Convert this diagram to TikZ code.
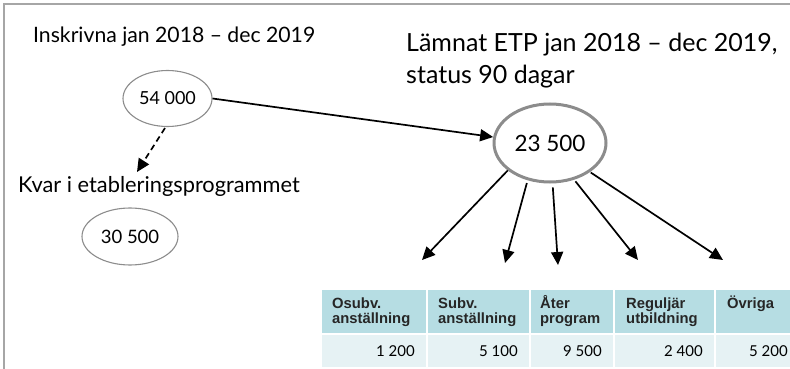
\documentclass[tikz,border=0pt]{standalone}
\usepackage{fontspec}
\setmainfont{Lato}
\newfontfamily\tabfont{Liberation Sans}
\usetikzlibrary{shapes.geometric,arrows.meta}

\definecolor{framegray}{HTML}{A6A6A6}
\definecolor{ringgray}{HTML}{8C8C8C}
\definecolor{hdrfill}{HTML}{B6DDE3}
\definecolor{rowfill}{HTML}{E6F2F4}
\definecolor{tabtext}{HTML}{262626}

\begin{document}
\begin{tikzpicture}[x=1pt,y=-1pt,
  tip/.style={-{Triangle[length=13pt,width=12pt]}},
  arr/.style={line width=1.7pt, tip},
  count/.style={ellipse, draw=ringgray, line width=1.1pt, inner sep=0pt},
  title/.style={anchor=base west, inner sep=0pt, text=black},
  cell/.style={anchor=north west, inner sep=0pt, draw=none},
  hdr/.style={cell, fill=hdrfill, minimum height=43pt},
  row/.style={cell, fill=rowfill, minimum height=32pt},
  hdtext/.style={anchor=base west, inner sep=0pt, text=tabtext,
    font=\tabfont\bfseries\fontsize{14.8}{17}\selectfont},
  num/.style={anchor=base east, inner sep=0pt, text=black,
    font=\fontsize{15}{18}\selectfont},
]
\useasboundingbox (0,0) rectangle (790,369);

% frame
\draw[framegray, line width=1.5pt] (4,369) -- (4,4) -- (790,4);

% headings
\node[title, font=\fontsize{21.2}{24}\selectfont] (ins) at (33,43) {Inskrivna jan 2018 -- dec 2019};
\node[title, font=\fontsize{25}{29}\selectfont] (lam1) at (406,52) {Lämnat ETP jan 2018 -- dec 2019,};
\node[title, font=\fontsize{25}{29}\selectfont] (lam2) at (406,84) {status 90 dagar};
\node[title, font=\fontsize{21.8}{25}\selectfont] (kvar) at (18,192) {Kvar i etableringsprogrammet};

% counts
\node[count, minimum width=89pt, minimum height=56pt, font=\fontsize{18}{20}\selectfont] (e54) at (167.5,98.5) {54 000};
\node[count, line width=3pt, minimum width=112pt, minimum height=78pt, font=\fontsize{22.5}{26}\selectfont] (e23) at (550,143) {23 500};
\node[count, minimum width=96pt, minimum height=57pt, font=\fontsize{18.5}{21}\selectfont] (e30) at (130,236.5) {30 500};

% connectors
\coordinate (kt) at (137,172);
\draw[line width=1.7pt, dash pattern=on 6pt off 4pt, tip] (e54.265) ++(0,1) -- (kt);
\draw[arr] (e54.east) -- (e23.174);

\coordinate (t1) at (422,260);
\coordinate (t2) at (505,263);
\coordinate (t3) at (558,265);
\coordinate (t4) at (638,260);
\coordinate (t5) at (723,260);
\draw[arr] (e23.213) -- (t1);
\draw[arr] (e23.238) ++(0,3) -- (t2);
\draw[arr] (e23.274) ++(0,4) -- (t3);
\draw[arr] (e23.305) ++(0,2) -- (t4);
\draw[arr] (e23.325) ++(0,1) -- (t5);

% table cells
\node[hdr, minimum width=104pt] (h1) at (322,290) {};
\node[hdr, minimum width=101pt] (h2) at (428,290) {};
\node[hdr, minimum width=82pt]  (h3) at (531,290) {};
\node[hdr, minimum width=99pt]  (h4) at (615,290) {};
\node[hdr, minimum width=74pt]  (h5) at (716,290) {};
\node[row, minimum width=104pt] (r1) at (322,335) {};
\node[row, minimum width=101pt] (r2) at (428,335) {};
\node[row, minimum width=82pt]  (r3) at (531,335) {};
\node[row, minimum width=99pt]  (r4) at (615,335) {};
\node[row, minimum width=74pt]  (r5) at (716,335) {};

% header texts
\node[hdtext] (h1a) at (332,308) {Osubv.};
\node[hdtext] (h1b) at (332,323.5) {anställning};
\node[hdtext] (h2a) at (438,308) {Subv.};
\node[hdtext] (h2b) at (438,323.5) {anställning};
\node[hdtext] (h3a) at (540,308) {Åter};
\node[hdtext] (h3b) at (540,323.5) {program};
\node[hdtext] (h4a) at (626,308) {Reguljär};
\node[hdtext] (h4b) at (626,323.5) {utbildning};
\node[hdtext] (h5a) at (727,308) {Övriga};

% values
\node[num] (n1) at (415,356) {1 200};
\node[num] (n2) at (518,356) {5 100};
\node[num] (n3) at (602,356) {9 500};
\node[num] (n4) at (703,356) {2 400};
\node[num] (n5) at (788,356) {5 200};
\end{tikzpicture}
\end{document}
